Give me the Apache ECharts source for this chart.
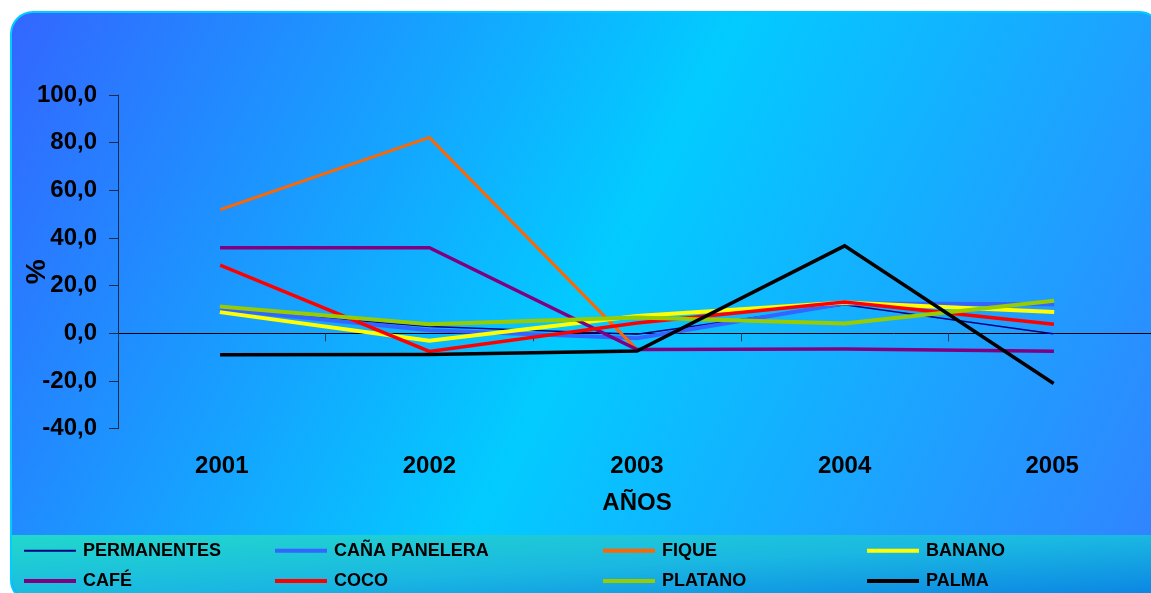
<!DOCTYPE html>
<html>
<head>
<meta charset="utf-8">
<script src="https://cdn.jsdelivr.net/npm/echarts@6/dist/echarts.min.js"></script>
<style>html,body{margin:0;padding:0;background:#fff}#c{width:1151px;height:593px}</style>
</head>
<body>
<div id="c"></div>
<script>
const years = ['2001', '2002', '2003', '2004', '2005'];
const yTickLabels = ['-40,0', '-20,0', '0,0', '20,0', '40,0', '60,0', '80,0', '100,0'];
const permanentes = [10.0, 2.9, -0.4, 12.0, -0.1];
const canaPanelera = [10.1, 1.3, -2.0, 12.5, 12.2];
const fique = [52.1, 82.2, -6.8, null, null];
const banano = [8.8, -3.1, 7.3, 12.9, 9.0];
const cafe = [35.9, 35.9, -6.8, -6.6, -7.5];
const coco = [28.3, -7.6, 4.3, 13.2, 3.9];
const platano = [11.2, 3.8, 6.6, 4.1, 13.6];
const palma = [-9.0, -8.9, -7.4, 36.7, -20.6];

const FONT = '"Liberation Sans", Arial, sans-serif';
const chart = echarts.init(document.getElementById('c'), null, {renderer: 'canvas'});

function mk(name, data, color, width) {
  return {
    name: name, type: 'line', data: data, symbol: 'none', showSymbol: false,
    xAxisIndex: 0, yAxisIndex: 0,
    lineStyle: {color: color, width: width, cap: 'square', join: 'miter'},
    itemStyle: {color: color},
    connectNulls: false, animation: false
  };
}

function leg(left, top, name, thick) {
  return {
    orient: 'horizontal', left: left, top: top, padding: 0,
    itemWidth: 52, itemHeight: thick, icon: 'rect',
    data: [name], selectedMode: false,
    textStyle: {color: '#000', fontWeight: 'bold', fontSize: 18, lineHeight: 20, fontFamily: FONT, padding: [0, 0, 0, 2]}
  };
}

const r1 = 540.7, r2 = 571;
chart.setOption({
  backgroundColor: '#ffffff',
  animation: false,
  graphic: [
    {type: 'rect', z: -10, shape: {x: 11, y: 12, width: 1150, height: 590, r: 22},
     style: {fill: new echarts.graphic.LinearGradient(0, 0, 1, 1, [
       {offset: 0, color: '#3366ff'}, {offset: 0.5, color: '#02cbff'}, {offset: 1, color: '#3380ff'}]),
       stroke: '#00ccff', lineWidth: 2}},
    {type: 'rect', z: -9, shape: {x: 12, y: 535, width: 1148, height: 66, r: [0, 0, 22, 22]},
     style: {fill: new echarts.graphic.LinearGradient(11, 535, 18.6, 666.4, [
       {offset: 0, color: '#22d8cc'}, {offset: 0.5, color: '#1ab8e2'}, {offset: 1, color: '#0a80e4'}], true)}}
  ],
  grid: {left: 118, top: 95, right: -5, bottom: 164.3, containLabel: false, outerBoundsMode: 'none'},
  legend: [
    leg(24, r1, 'PERMANENTES', 2),
    leg(24, r2, 'CAFÉ', 4),
    leg(275, r1, 'CAÑA PANELERA', 4),
    leg(275, r2, 'COCO', 4),
    leg(603, r1, 'FIQUE', 4),
    leg(603, r2, 'PLATANO', 4),
    leg(867, r1, 'BANANO', 4),
    leg(867, r2, 'PALMA', 4)
  ],
  xAxis: [
    {type: 'category', data: years, boundaryGap: true, position: 'bottom',
     axisLine: {show: false, onZero: false}, axisTick: {show: false},
     axisLabel: {margin: 26, color: '#000', fontWeight: 'bold', fontSize: 24, fontFamily: FONT},
     name: 'AÑOS', nameLocation: 'middle', nameGap: 63, nameMoveOverlap: false,
     nameTextStyle: {color: '#000', fontWeight: 'bold', fontSize: 24, fontFamily: FONT},
     splitLine: {show: false}},
    {type: 'category', data: years, boundaryGap: true, position: 'bottom',
     axisLine: {show: true, onZero: true, lineStyle: {color: '#000', width: 1}},
     axisTick: {show: true, length: 8, inside: false, lineStyle: {color: '#1a3a5a', width: 1}},
     axisLabel: {show: false}, splitLine: {show: false}}
  ],
  yAxis: {
    type: 'value', min: -40, max: 100, interval: 20,
    axisLine: {show: true, onZero: false, lineStyle: {color: '#1a2a40', width: 1}},
    axisTick: {show: true, length: 9, inside: false, lineStyle: {color: '#1a2a40', width: 1}},
    splitLine: {show: false},
    axisLabel: {margin: 21, color: '#000', fontWeight: 'bold', fontSize: 24, fontFamily: FONT,
      formatter: function (v) { return yTickLabels[Math.round((v + 40) / 20)]; }},
    name: '%', nameLocation: 'middle', nameRotate: 90, nameGap: 67, nameMoveOverlap: false,
    nameTextStyle: {color: '#000', fontWeight: 'bold', fontSize: 28, fontFamily: FONT, padding: [0, 20, 0, 0]}
  },
  series: [
    mk('PERMANENTES', permanentes, '#000080', 1.6),
    mk('CAÑA PANELERA', canaPanelera, '#3366ff', 4),
    mk('FIQUE', fique, '#ff6600', 3),
    mk('BANANO', banano, '#ffff00', 4),
    mk('CAFÉ', cafe, '#800080', 3.5),
    mk('COCO', coco, '#ff0000', 3.5),
    mk('PLATANO', platano, '#99cc00', 4),
    mk('PALMA', palma, '#000000', 3.5)
  ]
});
</script>
</body>
</html>
